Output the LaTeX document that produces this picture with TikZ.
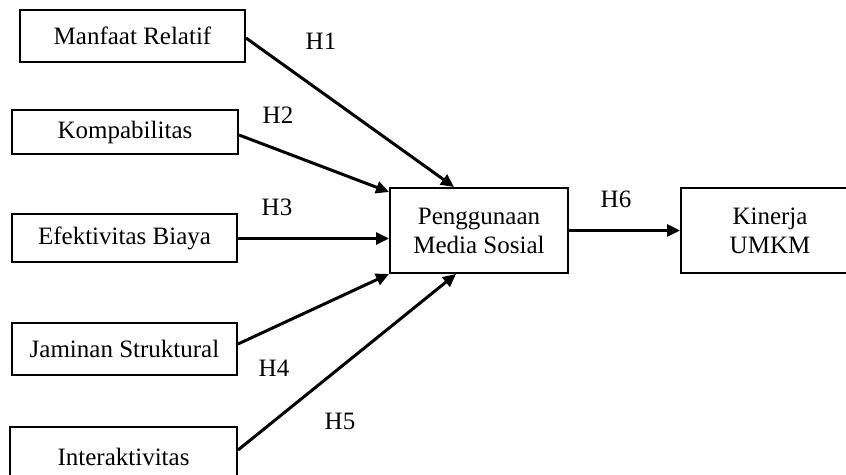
\documentclass[tikz,border=0pt]{standalone}
\usepackage{fontspec}
\setmainfont{Liberation Serif}
\usetikzlibrary{arrows.meta}
\tikzset{
  varbox/.style={draw,line width=1pt,inner sep=0pt,align=center,minimum width=112.5pt,minimum height=26pt},
  hyp/.style={line width=1.5pt,-{Triangle[length=6.5pt,width=6pt]}}
}
\begin{document}
\begin{tikzpicture}[x=0.5pt,y=-0.5pt,font=\fontsize{12.5}{14.5}\selectfont]
\useasboundingbox (0,0) rectangle (846,475);
\clip (0,0) rectangle (846,475);
% Variabel bebas
\node[varbox] (manfaat) at (132.5,36) {Manfaat Relatif};
\node[varbox,minimum height=22pt,minimum width=113pt] (kompa) at (125,132) {Kompabilitas};
\node[varbox,minimum height=24pt] (efek) at (124.5,238.5) {Efektivitas Biaya};
\node[varbox] (jamin) at (124.5,349) {Jaminan Struktural};
\node[varbox,minimum width=113.5pt,minimum height=30pt] (inter) at (123.5,457) {Interaktivitas};
% Mediasi dan hasil
\node[varbox,minimum width=89pt,minimum height=42.5pt] (medsos) at (479,230.5) {Penggunaan\\Media Sosial};
\node[varbox,minimum width=89pt,minimum height=42.5pt] (kinerja) at (770,230.5) {Kinerja\\UMKM};
% Hipotesis
\draw[hyp] ([yshift=-1pt]manfaat.east) -- ([xshift=32.5pt]medsos.north west);
\draw[hyp] ([yshift=-1.5pt]kompa.east) -- ([yshift=-2.5pt]medsos.north west);
\draw[hyp] (efek.east) -- (efek.east -| medsos.west);
\draw[hyp] ([yshift=2.5pt]jamin.east) -- (medsos.south west);
\draw[hyp] ([yshift=3.5pt]inter.east) -- ([xshift=33.5pt]medsos.south west);
\draw[hyp] (medsos.east) -- (kinerja.west);
\node (h1) at (321,41) {H1};
\node (h2) at (278,115) {H2};
\node (h3) at (277,207) {H3};
\node (h4) at (274,368) {H4};
\node (h5) at (340,421) {H5};
\node (h6) at (616,199) {H6};
\end{tikzpicture}
\end{document}
